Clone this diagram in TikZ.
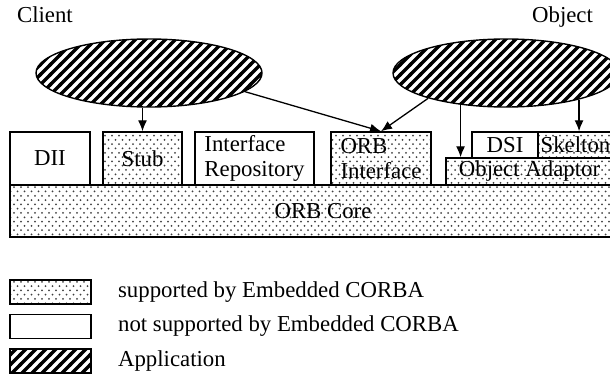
\documentclass[tikz,border=0pt]{standalone}
\usepackage{fontspec}
\setmainfont{Liberation Serif}
\usetikzlibrary{shapes.geometric,patterns,arrows.meta,positioning}

% dotted fill = supported, thick hatch = application
\pgfdeclarepatternformonly{corbadots}{\pgfqpoint{-0.6pt}{-0.6pt}}{\pgfqpoint{2.9pt}{3.7pt}}{\pgfqpoint{3.5pt}{4.3pt}}{%
  \pgfpathcircle{\pgfqpoint{0pt}{0pt}}{0.5pt}%
  \pgfpathcircle{\pgfqpoint{1.75pt}{2.15pt}}{0.5pt}%
  \pgfusepath{fill}}
\pgfdeclarepatternformonly{apphatch}{\pgfqpoint{-1pt}{-1pt}}{\pgfqpoint{6pt}{6pt}}{\pgfqpoint{5pt}{5pt}}{%
  \pgfsetlinewidth{1.6pt}%
  \pgfpathmoveto{\pgfqpoint{-1pt}{-1pt}}%
  \pgfpathlineto{\pgfqpoint{6pt}{6pt}}%
  \pgfusepath{stroke}}

\begin{document}
\begin{tikzpicture}[x=0.5pt, y=-0.5pt, >={Latex[length=5.5pt,width=4.5pt]},
    font=\fontsize{11.4}{12.5}\selectfont]

    \tikzset{% styles for the layers
        box/.style={rectangle,draw,line width=0.7pt,inner sep=0pt},
        supp/.style={box,pattern=corbadots,pattern color=black!75},
        nsupp/.style={box,fill=white},
        app/.style={ellipse,draw,line width=0.7pt,inner sep=0pt,pattern=apphatch,
                    minimum width=113pt,minimum height=34pt},
        conn/.style={->,line width=0.65pt},
        legtext/.style={inner sep=0pt,anchor=west}}

    \useasboundingbox (0,0) rectangle (610,385);
    \clip (0,0) rectangle (610,385);

    \node [anchor=base west] (client) at (10,23) {Client};
    \node [anchor=base east] (object) at (600,23) {Object};

    \node [app] (capp) at (149,73) {};
    \node [app] (oapp) at (506,73) {};

    \node [supp,minimum width=313pt,minimum height=26pt] (core) at (323,211) {ORB Core};

    \node [nsupp,minimum width=40pt,minimum height=26.5pt] (dii) at (50,158.5) {DII};
    \node [supp,minimum width=39.5pt,minimum height=26.5pt] (stub) at (142.5,158.5) {Stub};
    \node [nsupp,minimum width=59.5pt,minimum height=26.5pt,align=left] (ir) at (254.5,158.5) {Interface\\Repository};
    \node [supp,minimum width=50pt,minimum height=26.5pt,align=left] (orbi) at (381,158.5) {ORB\\Interface};
    \node [supp,minimum width=83.5pt,minimum height=13.5pt] (oa) at (529.5,171.5) {Object Adaptor};
    \node [nsupp,minimum width=33pt,minimum height=13pt] (dsi) at (505,145) {DSI};
    \node [supp,minimum width=37.5pt,minimum height=13pt] (skel) at (575.5,145) {Skelton};

    \draw [conn] (stub.north |- capp.south) -- (stub.north);
    \draw [conn] (capp.-11) -- (orbi.north);
    \draw [conn] (oapp.198) -- (orbi.north);
    \draw [conn] (oapp.215) -- (oapp.215 |- oa.north);
    \draw [conn] (oapp.-20) -- (oapp.-20 |- skel.north);

    % legend
    \node [supp,minimum width=40.5pt,minimum height=12pt] (lsupp) at (50.5,292) {};
    \node [nsupp,minimum width=40.5pt,minimum height=12pt] (lnsupp) at (50.5,326.5) {};
    \node [box,pattern=apphatch,minimum width=40.5pt,minimum height=12pt] (lapp) at (50.5,361) {};
    \node [legtext,right=13pt of lsupp] (tsupp) {supported by Embedded CORBA};
    \node [legtext,right=13pt of lnsupp] (tnsupp) {not supported by Embedded CORBA};
    \node [legtext,right=13pt of lapp] (tapp) {Application};

\end{tikzpicture}
\end{document}
